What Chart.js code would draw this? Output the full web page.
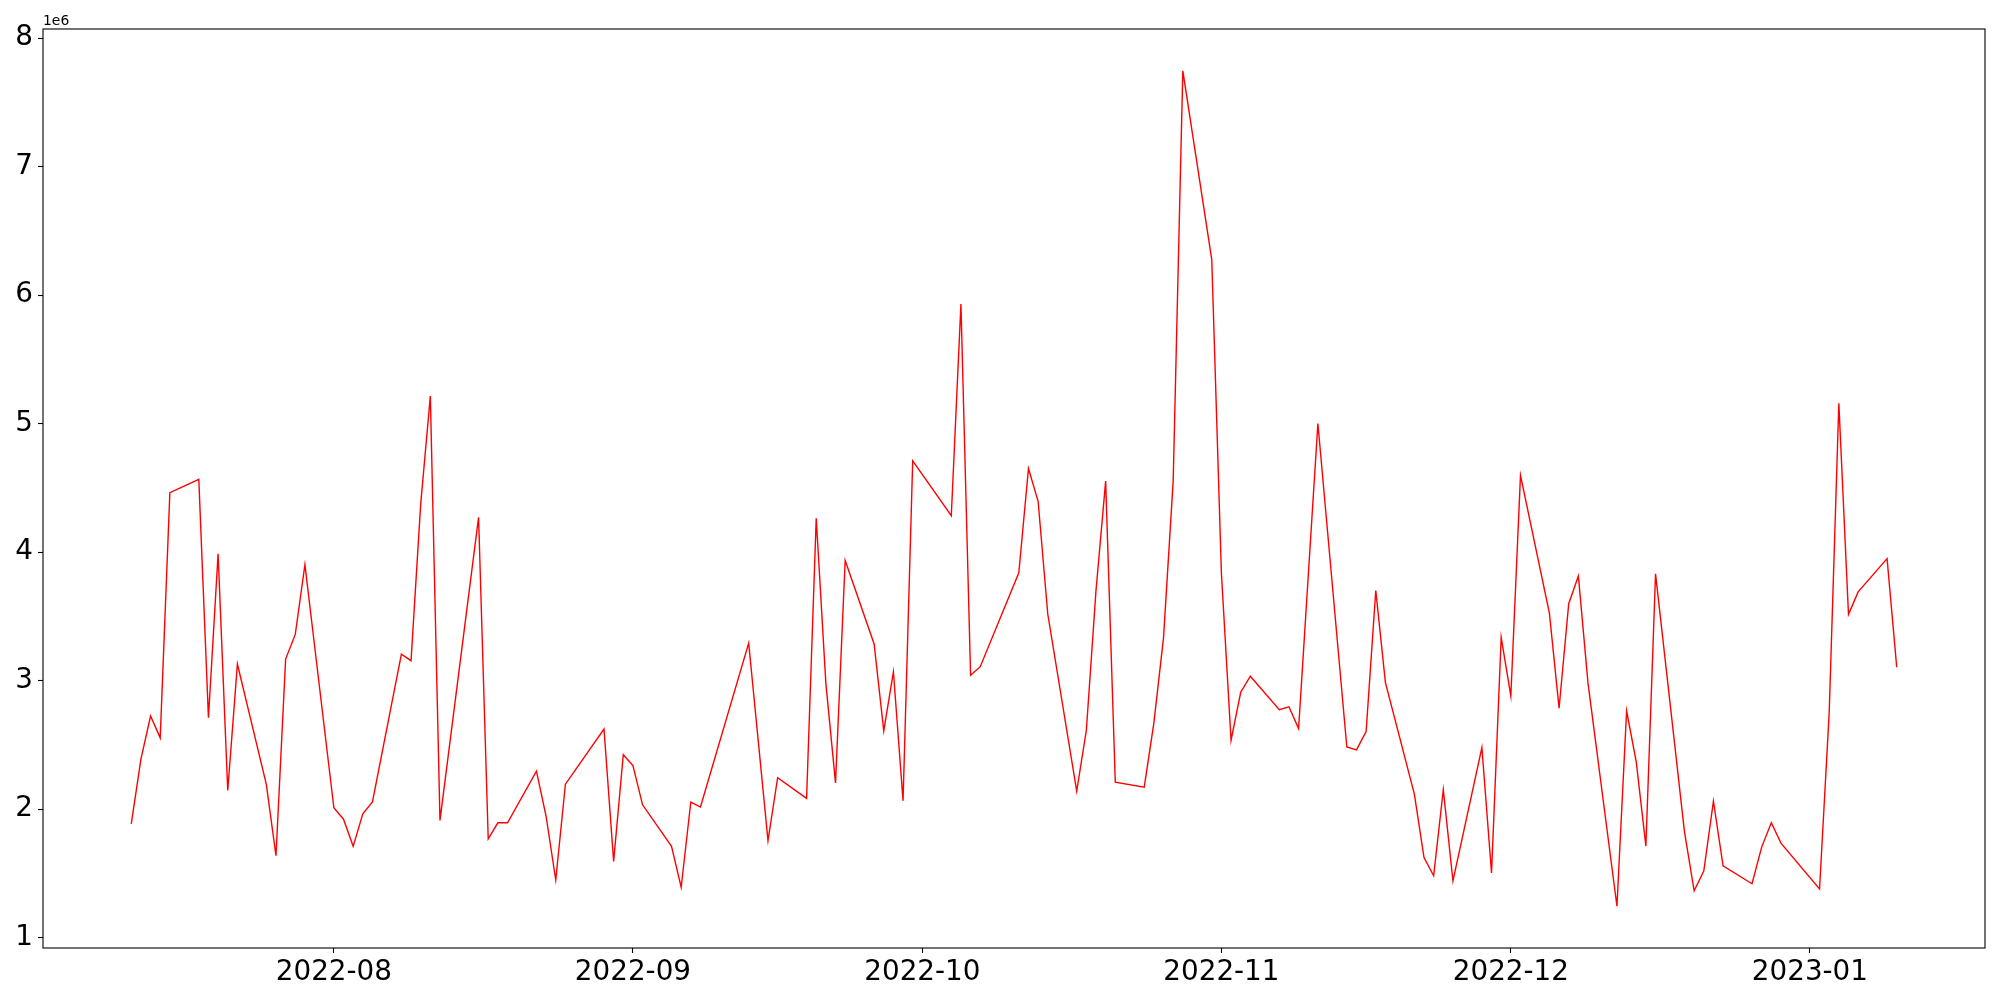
<!DOCTYPE html>
<html>
<head>
<meta charset="utf-8">
<script src="https://cdn.jsdelivr.net/npm/chart.js@4/dist/chart.umd.min.js"></script>
<style>
  html, body { margin: 0; padding: 0; background: #ffffff; }
  #wrap { width: 2000px; height: 1000px; }
</style>
</head>
<body>
<div id="wrap"><canvas id="c" width="2000" height="1000"></canvas></div>
<script>
// ---- data (values in units of 1e6) ----
const dates = [
  '2022-07-11','2022-07-12','2022-07-13','2022-07-14','2022-07-15',
  '2022-07-18','2022-07-19','2022-07-20','2022-07-21','2022-07-22',
  '2022-07-25','2022-07-26','2022-07-27','2022-07-28','2022-07-29',
  '2022-08-01','2022-08-02','2022-08-03','2022-08-04','2022-08-05',
  '2022-08-08','2022-08-09','2022-08-10','2022-08-11','2022-08-12',
  '2022-08-16','2022-08-17','2022-08-18','2022-08-19',
  '2022-08-22','2022-08-23','2022-08-24','2022-08-25',
  '2022-08-29','2022-08-30','2022-08-31','2022-09-01','2022-09-02',
  '2022-09-05','2022-09-06','2022-09-07','2022-09-08',
  '2022-09-13','2022-09-15','2022-09-16',
  '2022-09-19','2022-09-20','2022-09-21','2022-09-22','2022-09-23',
  '2022-09-26','2022-09-27','2022-09-28','2022-09-29','2022-09-30',
  '2022-10-04','2022-10-05','2022-10-06','2022-10-07',
  '2022-10-11','2022-10-12','2022-10-13','2022-10-14',
  '2022-10-17','2022-10-18','2022-10-19','2022-10-20','2022-10-21',
  '2022-10-24','2022-10-25','2022-10-26','2022-10-27','2022-10-28',
  '2022-10-31','2022-11-01','2022-11-02','2022-11-03','2022-11-04',
  '2022-11-07','2022-11-08','2022-11-09','2022-11-11',
  '2022-11-14','2022-11-15','2022-11-16','2022-11-17','2022-11-18',
  '2022-11-21','2022-11-22','2022-11-23','2022-11-24','2022-11-25',
  '2022-11-28','2022-11-29','2022-11-30','2022-12-01','2022-12-02',
  '2022-12-05','2022-12-06','2022-12-07','2022-12-08','2022-12-09',
  '2022-12-12','2022-12-13','2022-12-14','2022-12-15','2022-12-16',
  '2022-12-19','2022-12-20','2022-12-21','2022-12-22','2022-12-23',
  '2022-12-26','2022-12-27','2022-12-28','2022-12-29',
  '2023-01-02','2023-01-03','2023-01-04','2023-01-05','2023-01-06',
  '2023-01-09','2023-01-10'
];
const values = [
  1.886, 2.390, 2.725, 2.555, 4.463,
  4.566, 2.711, 3.987, 2.145, 3.129,
  2.193, 1.638, 3.168, 3.360, 3.903,
  2.011, 1.922, 1.711, 1.964, 2.056,
  3.207, 3.156, 4.374, 5.215, 1.913,
  4.271, 1.769, 1.894, 1.894,
  2.296, 1.945, 1.449, 2.195,
  2.624, 1.594, 2.424, 2.340, 2.034,
  1.711, 1.393, 2.056, 2.017,
  3.292, 1.756, 2.245,
  2.084, 4.264, 2.977, 2.205, 3.936,
  3.286, 2.609, 3.069, 2.065, 4.711,
  4.284, 5.931, 3.043, 3.109,
  3.840, 4.651, 4.396, 3.519,
  2.140, 2.614, 3.702, 4.553, 2.211,
  2.171, 2.672, 3.335, 4.553, 7.746,
  6.277, 3.836, 2.537, 2.910, 3.035,
  2.775, 2.797, 2.627, 5.001,
  2.484, 2.462, 2.605, 3.702, 2.985,
  2.117, 1.624, 1.482, 2.151, 1.443,
  2.479, 1.504, 3.337, 2.881, 4.597,
  3.524, 2.786, 3.599, 3.814, 2.981,
  1.245, 2.764, 2.368, 1.713, 3.831,
  1.824, 1.365, 1.518, 2.062, 1.560,
  1.420, 1.705, 1.894, 1.736,
  1.379, 2.750, 5.159, 3.516, 3.691,
  3.950, 3.106
];
const xTickDates  = ['2022-08-01','2022-09-01','2022-10-01','2022-11-01','2022-12-01','2023-01-01'];
const xTickLabels = ['2022-08','2022-09','2022-10','2022-11','2022-12','2023-01'];
const yTickValues = [1, 2, 3, 4, 5, 6, 7, 8];
const offsetLabel = '1e6';

// ---- helpers ----
function dayNum(s) {
  const p = s.split('-').map(Number);
  return Date.UTC(p[0], p[1] - 1, p[2]) / 86400000;
}
const points = dates.map((d, i) => ({ x: dayNum(d), y: values[i] }));
const xTicks = xTickDates.map(dayNum);

const xs = points.map(p => p.x), ys = values;
const xMinD = Math.min(...xs), xMaxD = Math.max(...xs);
const yMinD = Math.min(...ys), yMaxD = Math.max(...ys);
const xPad = (xMaxD - xMinD) * 0.05, yPad = (yMaxD - yMinD) * 0.05;

const FONT = 'DejaVu Sans';

const framePlugin = {
  id: 'frame',
  afterDraw(chart) {
    const { ctx, chartArea: a } = chart;
    ctx.save();
    ctx.strokeStyle = '#000';
    ctx.lineWidth = 1.1;
    ctx.strokeRect(a.left, a.top, a.right - a.left, a.bottom - a.top);
    ctx.fillStyle = '#000';
    ctx.font = '13.9px "' + FONT + '"';
    ctx.textAlign = 'left';
    ctx.textBaseline = 'alphabetic';
    ctx.fillText(offsetLabel, a.left, a.top - 4);
    ctx.restore();
  }
};

new Chart(document.getElementById('c'), {
  type: 'line',
  data: {
    datasets: [{
      data: points,
      borderColor: '#ff0000',
      borderWidth: 1.4,
      pointRadius: 0,
      tension: 0,
      fill: false
    }]
  },
  options: {
    responsive: false,
    devicePixelRatio: 1,
    animation: false,
    parsing: false,
    layout: { padding: { top: 29, right: 15, left: 0, bottom: 0 } },
    plugins: { legend: { display: false }, tooltip: { enabled: false } },
    scales: {
      x: {
        type: 'linear',
        min: xMinD - xPad,
        max: xMaxD + xPad,
        afterBuildTicks: s => { s.ticks = xTicks.map(v => ({ value: v })); },
        afterFit: s => { s.height = 52; },
        ticks: {
          callback: (v) => { const i = xTicks.indexOf(v); return i >= 0 ? xTickLabels[i] : ''; },
          font: { family: FONT, size: 27.8 },
          color: '#000',
          maxRotation: 0,
          autoSkip: false,
          padding: 3
        },
        grid: { display: true, drawOnChartArea: false, drawTicks: true, tickLength: 5, tickColor: '#000', tickWidth: 1.1 },
        border: { display: false }
      },
      y: {
        type: 'linear',
        min: yMinD - yPad,
        max: yMaxD + yPad,
        afterBuildTicks: s => { s.ticks = yTickValues.map(v => ({ value: v })); },
        afterFit: s => { s.width = 43; },
        ticks: {
          callback: v => String(v),
          font: { family: FONT, size: 27.8 },
          color: '#000',
          padding: 5
        },
        grid: { display: true, drawOnChartArea: false, drawTicks: true, tickLength: 5, tickColor: '#000', tickWidth: 1.1 },
        border: { display: false }
      }
    }
  },
  plugins: [framePlugin]
});
</script>
</body>
</html>
